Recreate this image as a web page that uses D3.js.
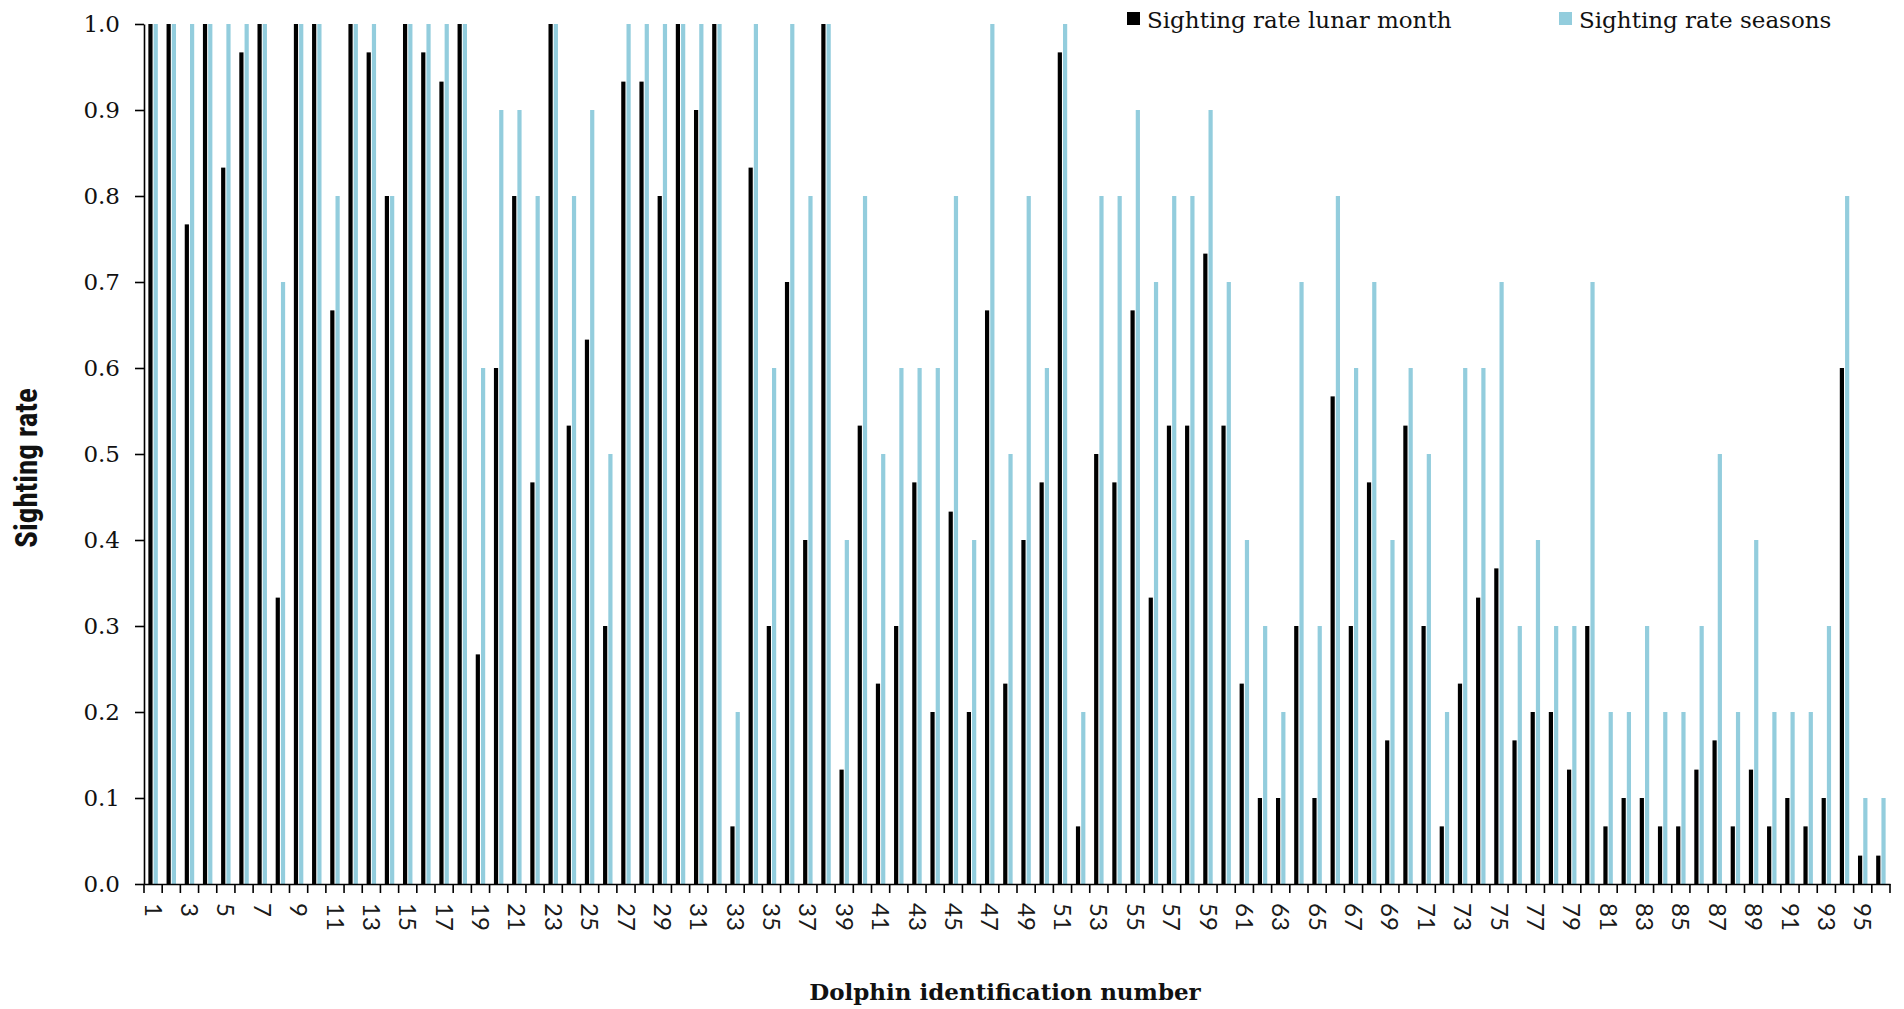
<!DOCTYPE html>
<html>
<head>
<meta charset="utf-8">
<script src="https://cdn.jsdelivr.net/npm/d3@7"></script>
<style>
  body { margin: 0; background: #fff; }
</style>
</head>
<body>
<div id="chart"></div>
<script>
const dolphin_ids = [1,2,3,4,5,6,7,8,9,10,11,12,13,14,15,16,17,18,19,20,21,22,23,24,
  25,26,27,28,29,30,31,32,33,34,35,36,37,38,39,40,41,42,43,44,45,46,47,48,
  49,50,51,52,53,54,55,56,57,58,59,60,61,62,63,64,65,66,67,68,69,70,71,72,
  73,74,75,76,77,78,79,80,81,82,83,84,85,86,87,88,89,90,91,92,93,94,95,96];

const lunar_month = [1,1,0.767,1,0.833,0.967,1,0.333,1,1,0.667,1,
  0.967,0.8,1,0.967,0.933,1,0.267,0.6,0.8,0.467,1,0.533,
  0.633,0.3,0.933,0.933,0.8,1,0.9,1,0.067,0.833,0.3,0.7,
  0.4,1,0.133,0.533,0.233,0.3,0.467,0.2,0.433,0.2,0.667,0.233,
  0.4,0.467,0.967,0.067,0.5,0.467,0.667,0.333,0.533,0.533,0.733,0.533,
  0.233,0.1,0.1,0.3,0.1,0.567,0.3,0.467,0.167,0.533,0.3,0.067,
  0.233,0.333,0.367,0.167,0.2,0.2,0.133,0.3,0.067,0.1,0.1,0.067,
  0.067,0.133,0.167,0.067,0.133,0.067,0.1,0.067,0.1,0.6,0.033,0.033];

const seasons = [1,1,1,1,1,1,1,0.7,1,1,0.8,1,
  1,0.8,1,1,1,1,0.6,0.9,0.9,0.8,1,0.8,
  0.9,0.5,1,1,1,1,1,1,0.2,1,0.6,1,
  0.8,1,0.4,0.8,0.5,0.6,0.6,0.6,0.8,0.4,1,0.5,
  0.8,0.6,1,0.2,0.8,0.8,0.9,0.7,0.8,0.8,0.9,0.7,
  0.4,0.3,0.2,0.7,0.3,0.8,0.6,0.7,0.4,0.6,0.5,0.2,
  0.6,0.6,0.7,0.3,0.4,0.3,0.3,0.7,0.2,0.2,0.3,0.2,
  0.2,0.3,0.5,0.2,0.4,0.2,0.2,0.2,0.3,0.8,0.1,0.1];

const series_names = ["Sighting rate lunar month", "Sighting rate seasons"];
const series_colors = ["#000000", "#93CDDD"];
const y_ticks = [0, 0.1, 0.2, 0.3, 0.4, 0.5, 0.6, 0.7, 0.8, 0.9, 1.0];

var margin = { top: 24, right: 14, bottom: 125, left: 144 },
    width = 1904,
    height = 1009;

const serif = "'DejaVu Serif', 'Liberation Serif', serif";

const rows = dolphin_ids.map((id, i) => ({ id: id, values: [lunar_month[i], seasons[i]] }));

const x_scale = d3.scaleBand()
    .domain(dolphin_ids)
    .range([margin.left, width - margin.right])
    .paddingInner(0.48)
    .paddingOuter(0.24);

const x_sub = d3.scaleBand()
    .domain([0, 1])
    .range([0, x_scale.bandwidth()])
    .paddingInner(0.2);

const y_scale = d3.scaleLinear()
    .domain([0, 1])
    .range([height - margin.bottom, margin.top]);

const svg = d3.select("#chart").append("svg")
    .attr("width", width)
    .attr("height", height);

// bars
svg.append("g")
    .selectAll("g")
    .data(rows)
    .join("g")
    .attr("transform", d => `translate(${x_scale(d.id)},0)`)
    .selectAll("rect")
    .data(d => d.values.map((v, k) => ({ k: k, v: v })))
    .join("rect")
    .attr("x", d => x_sub(d.k))
    .attr("width", x_sub.bandwidth())
    .attr("y", d => y_scale(d.v))
    .attr("height", d => y_scale(0) - y_scale(d.v))
    .attr("fill", d => series_colors[d.k]);

// y axis
const yAxis = g => g.attr("transform", `translate(${margin.left},0)`)
    .call(d3.axisLeft(y_scale).tickValues(y_ticks).tickFormat(d3.format(".1f"))
        .tickSize(9).tickSizeOuter(0).tickPadding(15));

svg.append("g")
    .call(yAxis)
    .call(g => g.selectAll("line, path").attr("stroke", "#000").attr("stroke-width", 1.6))
    .selectAll("text")
    .style("font-family", serif)
    .style("font-size", "23px")
    .attr("fill", "#111");

// x axis (labels at centre, ticks at category boundaries)
const xAxis = g => g.attr("transform", `translate(0,${height - margin.bottom})`)
    .call(d3.axisBottom(x_scale).tickFormat(d => d % 2 ? d : "").tickSize(0).tickSizeOuter(0));

const x_axis_g = svg.append("g").call(xAxis);

x_axis_g.select(".domain").attr("stroke", "#000").attr("stroke-width", 1.6);

x_axis_g.selectAll("text")
    .attr("y", 0)
    .attr("x", 19)
    .attr("dy", ".35em")
    .attr("transform", "rotate(90)")
    .style("text-anchor", "start")
    .style("font-family", "Lato, 'Open Sans', sans-serif")
    .style("font-weight", 400)
    .style("font-size", "24px")
    .attr("fill", "#1a1a1a");

const boundaries = dolphin_ids.map(d => x_scale(d) + x_scale.bandwidth() / 2 - x_scale.step() / 2)
    .concat([x_scale(dolphin_ids[dolphin_ids.length - 1]) + x_scale.bandwidth() / 2 + x_scale.step() / 2]);

x_axis_g.append("g")
    .selectAll("line")
    .data(boundaries)
    .join("line")
    .attr("x1", d => d)
    .attr("x2", d => d)
    .attr("y1", 0)
    .attr("y2", 9)
    .attr("stroke", "#000")
    .attr("stroke-width", 1.6);

// axis titles
svg.append("text")
    .text("Dolphin identification number")
    .attr("text-anchor", "middle")
    .attr("x", 1005)
    .attr("y", 1000)
    .style("font-family", serif)
    .style("font-weight", "bold")
    .style("font-size", "23px")
    .attr("fill", "#111");

svg.append("text")
    .text("Sighting rate")
    .attr("text-anchor", "middle")
    .attr("transform", "translate(37,468) rotate(-90)")
    .style("font-family", "'Liberation Sans Narrow', 'Roboto Condensed', sans-serif")
    .style("font-stretch", "condensed")
    .style("font-weight", "bold")
    .style("font-size", "31px")
    .attr("fill", "#111");

// legend
const legend_x = [1127, 1559];
const legend = svg.append("g")
    .selectAll("g")
    .data(series_names)
    .join("g")
    .attr("transform", (d, i) => `translate(${legend_x[i]},12)`);

legend.append("rect")
    .attr("width", 13)
    .attr("height", 13)
    .attr("fill", (d, i) => series_colors[i]);

legend.append("text")
    .text(d => d)
    .attr("x", 20)
    .attr("y", 16)
    .style("font-family", serif)
    .style("font-size", "23px")
    .attr("fill", "#111");
</script>
</body>
</html>
